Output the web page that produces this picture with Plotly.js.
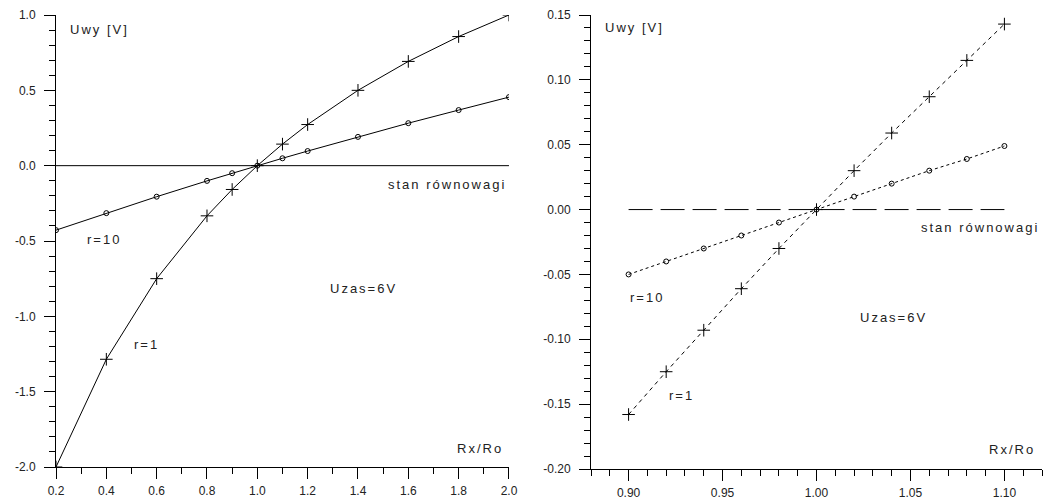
<!DOCTYPE html>
<html>
<head>
<meta charset="utf-8">
<script src="https://cdn.plot.ly/plotly-3.0.1.min.js"></script>
<style>
  html, body { margin: 0; padding: 0; background: #fff; }
  #chart { width: 1044px; height: 502px; }
  text.annotation-text { letter-spacing: 2px; }
</style>
</head>
<body>
<div id="chart"></div>
<script>
// ---- Left panel: Rx/Ro from 0.2 to 2.0 ----
const xWide = [0.2, 0.4, 0.6, 0.8, 0.9, 1.0, 1.1, 1.2, 1.4, 1.6, 1.8, 2.0];
const uR1Wide = [-2.0, -1.285, -0.75, -0.333, -0.158, 0.0, 0.143, 0.273, 0.5, 0.692, 0.857, 1.0];
const uR10Wide = [-0.428, -0.315, -0.206, -0.101, -0.05, 0.0, 0.049, 0.097, 0.191, 0.282, 0.369, 0.455];
const eqWideX = [0.2, 2.0];
const eqWideY = [0, 0];

// ---- Right panel: Rx/Ro from 0.90 to 1.10 ----
const xNarrow = [0.90, 0.92, 0.94, 0.96, 0.98, 1.00, 1.02, 1.04, 1.06, 1.08, 1.10];
const uR1Narrow = [-0.158, -0.125, -0.093, -0.061, -0.030, 0.0, 0.030, 0.059, 0.087, 0.115, 0.143];
const uR10Narrow = [-0.050, -0.040, -0.030, -0.020, -0.010, 0.0, 0.010, 0.020, 0.030, 0.039, 0.049];
const eqNarrowX = [0.90, 1.10];
const eqNarrowY = [0, 0];

// ---- Tick labels ----
const xWideTicks = [0.2, 0.4, 0.6, 0.8, 1.0, 1.2, 1.4, 1.6, 1.8, 2.0];
const xWideLabels = ["0.2", "0.4", "0.6", "0.8", "1.0", "1.2", "1.4", "1.6", "1.8", "2.0"];
const yWideTicks = [-2.0, -1.5, -1.0, -0.5, 0.0, 0.5, 1.0];
const yWideLabels = ["-2.0", "-1.5", "-1.0", "-0.5", "0.0", "0.5", "1.0"];
const xNarrowTicks = [0.90, 0.95, 1.00, 1.05, 1.10];
const xNarrowLabels = ["0.90", "0.95", "1.00", "1.05", "1.10"];
const yNarrowTicks = [-0.20, -0.15, -0.10, -0.05, 0.00, 0.05, 0.10, 0.15];
const yNarrowLabels = ["-0.20", "-0.15", "-0.10", "-0.05", "0.00", "0.05", "0.10", "0.15"];

const INK = '#000';
const TXT = '#222';
const FONT = 'Liberation Sans, Arial, Helvetica, sans-serif';

const crossMarker = { symbol: 'cross-thin', size: 9, color: INK, line: { color: INK, width: 1 } };
const circleMarker = { symbol: 'circle-open', size: 5, color: INK, line: { color: INK, width: 1 } };

const traces = [
  { x: eqWideX, y: eqWideY, mode: 'lines', line: { color: INK, width: 1 }, xaxis: 'x', yaxis: 'y', hoverinfo: 'skip' },
  { x: xWide, y: uR10Wide, mode: 'lines+markers', line: { color: INK, width: 1 }, marker: circleMarker, xaxis: 'x', yaxis: 'y', name: 'r=10' },
  { x: xWide, y: uR1Wide, mode: 'lines+markers', line: { color: INK, width: 1 }, marker: crossMarker, xaxis: 'x', yaxis: 'y', name: 'r=1' },

  { x: eqNarrowX, y: eqNarrowY, mode: 'lines', line: { color: INK, width: 1, dash: '24px,8px' }, xaxis: 'x2', yaxis: 'y2', hoverinfo: 'skip' },
  { x: xNarrow, y: uR10Narrow, mode: 'lines+markers', line: { color: INK, width: 1, dash: '3px,3px' }, marker: circleMarker, xaxis: 'x2', yaxis: 'y2', name: 'r=10' },
  { x: xNarrow, y: uR1Narrow, mode: 'lines+markers', line: { color: INK, width: 1, dash: '4px,4px' }, marker: crossMarker, xaxis: 'x2', yaxis: 'y2', name: 'r=1' }
];

function axisBase(extra) {
  return Object.assign({
    showgrid: false, zeroline: false,
    showline: true, linecolor: INK, linewidth: 1,
    ticks: 'outside', ticklen: 11, tickwidth: 1, tickcolor: INK,
    tickfont: { family: FONT, size: 12, color: TXT },
    fixedrange: true
  }, extra);
}

function ann(xref, yref, x, y, text, xanchor) {
  return { xref: xref, yref: yref, x: x, y: y, text: text, showarrow: false,
           xanchor: xanchor || 'left', yanchor: 'middle',
           font: { family: FONT, size: 13, color: TXT } };
}

const layout = {
  width: 1044, height: 502,
  margin: { l: 56, r: 2, t: 15, b: 33 },
  paper_bgcolor: '#fff', plot_bgcolor: '#fff',
  showlegend: false,
  xaxis: axisBase({ domain: [0, 0.4594], range: [0.2, 2.0], anchor: 'y',
    tickmode: 'array', tickvals: xWideTicks, ticktext: xWideLabels, ticklabelstandoff: 2,
    minor: { dtick: 0.1, tick0: 0.2, ticks: 'outside', ticklen: 6, tickcolor: INK, tickwidth: 1, showgrid: false } }),
  yaxis: axisBase({ domain: [0.0044, 1], range: [-2.0, 1.0], anchor: 'x',
    tickmode: 'array', tickvals: yWideTicks, ticktext: yWideLabels, ticklabelstandoff: 6,
    minor: { dtick: 0.1, tick0: 0, ticks: 'outside', ticklen: 6, tickcolor: INK, tickwidth: 1, showgrid: false } }),
  xaxis2: axisBase({ domain: [0.5426, 1], range: [0.88, 1.12], anchor: 'y2',
    tickmode: 'array', tickvals: xNarrowTicks, ticktext: xNarrowLabels, ticklabelstandoff: 2,
    minor: { dtick: 0.01, tick0: 0.88, ticks: 'outside', ticklen: 6, tickcolor: INK, tickwidth: 1, showgrid: false } }),
  yaxis2: axisBase({ domain: [0, 1], range: [-0.20, 0.15], anchor: 'x2',
    tickmode: 'array', tickvals: yNarrowTicks, ticktext: yNarrowLabels, ticklabelstandoff: 6,
    minor: { dtick: 0.01, tick0: 0, ticks: 'outside', ticklen: 6, tickcolor: INK, tickwidth: 1, showgrid: false } }),
  annotations: [
    ann('x', 'y', 0.248, 0.907, 'Uwy [V]'),
    ann('x', 'y', 1.996, -0.128, 'stan równowagi', 'right'),
    ann('x', 'y', 1.42, -0.812, 'Uzas=6V', 'center'),
    ann('x', 'y', 0.315, -0.493, 'r=10'),
    ann('x', 'y', 0.502, -1.19, 'r=1'),
    ann('x', 'y', 1.985, -1.874, 'Rx/Ro', 'right'),

    ann('x2', 'y2', 0.8862, 0.140, 'Uwy [V]'),
    ann('x2', 'y2', 1.1195, -0.0135, 'stan równowagi', 'right'),
    ann('x2', 'y2', 1.041, -0.083, 'Uzas=6V', 'center'),
    ann('x2', 'y2', 0.8995, -0.0674, 'r=10'),
    ann('x2', 'y2', 0.9207, -0.143, 'r=1'),
    ann('x2', 'y2', 1.1175, -0.185, 'Rx/Ro', 'right')
  ]
};

Plotly.newPlot('chart', traces, layout, { displayModeBar: false, staticPlot: true });
</script>
</body>
</html>
